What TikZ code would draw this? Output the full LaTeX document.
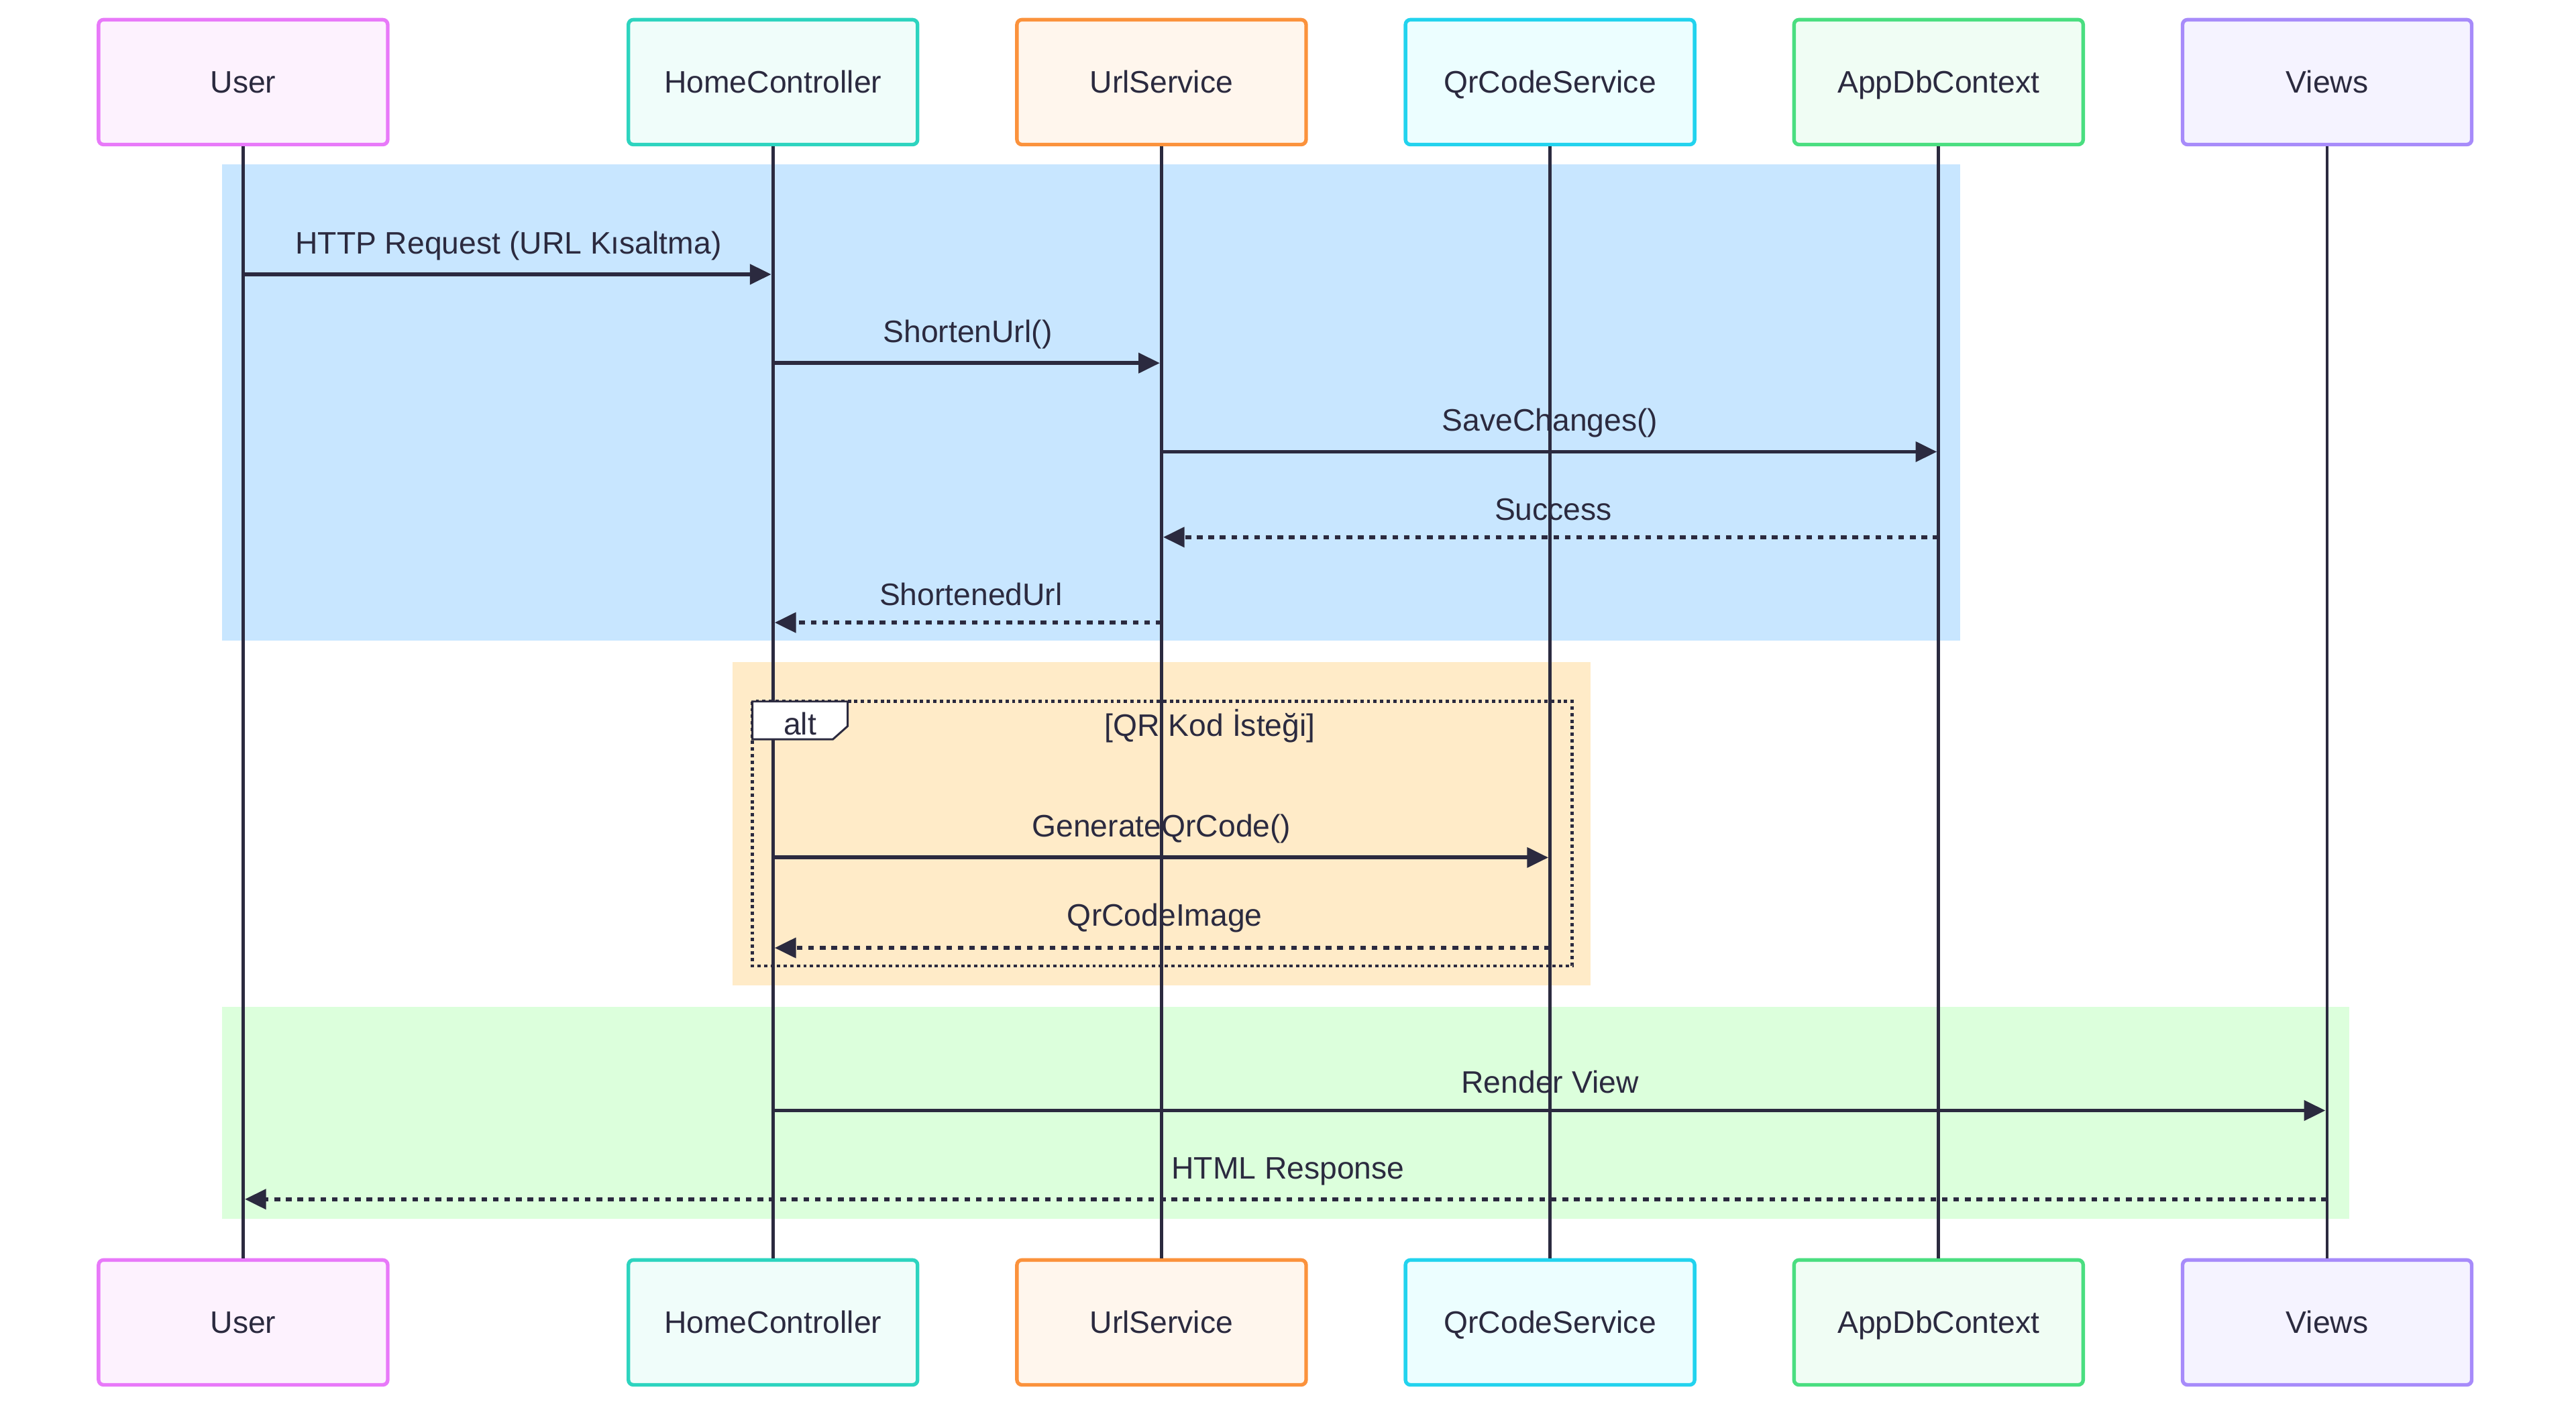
\documentclass[tikz,border=0pt]{standalone}
\usepackage{fontspec}
\setmainfont{Liberation Sans}
\usetikzlibrary{arrows.meta}
\definecolor{ink}{HTML}{2B2A3F}
\definecolor{uB}{HTML}{E879F9}\definecolor{uF}{HTML}{FDF2FE}
\definecolor{hB}{HTML}{2DD4BF}\definecolor{hF}{HTML}{F0FDFA}
\definecolor{sB}{HTML}{FB923C}\definecolor{sF}{HTML}{FFF6ED}
\definecolor{qB}{HTML}{22D3EE}\definecolor{qF}{HTML}{ECFEFF}
\definecolor{aB}{HTML}{4ADE80}\definecolor{aF}{HTML}{F0FDF4}
\definecolor{vB}{HTML}{A78BFA}\definecolor{vF}{HTML}{F5F3FF}
\definecolor{bgBlue}{RGB}{200,230,255}
\definecolor{bgOrange}{RGB}{255,235,200}
\definecolor{bgGreen}{RGB}{220,255,220}
\begin{document}
\begin{tikzpicture}[x=1pt,y=-1pt,
  font=\fontsize{18.9}{22}\selectfont,
  actor/.style={draw, rounded corners=3pt, line width=2.2pt, minimum width=176pt,
    minimum height=76pt, text=ink, inner sep=0pt, text height=13.5pt, text depth=0pt},
  life/.style={draw=ink, line width=2pt},
  msg/.style={draw=ink, line width=2.4pt, shorten >=1pt, -{Triangle[length=13pt,width=12pt]}},
  ret/.style={msg, dash pattern=on 3.5pt off 3.5pt},
  lbl/.style={text=ink, anchor=base, inner sep=0pt}]
\useasboundingbox (0,0) rectangle (1568,858.3);
% background groups
\fill[bgBlue] (135,100) rectangle (1193,390);
\fill[bgOrange] (446,403) rectangle (968,600);
\fill[bgGreen] (135,613) rectangle (1430,742);
% actors top
\node[actor, draw=uB, fill=uF] (uT) at (148,50) {User};
\node[actor, draw=hB, fill=hF] (hT) at (470.5,50) {HomeController};
\node[actor, draw=sB, fill=sF] (sT) at (707,50) {UrlService};
\node[actor, draw=qB, fill=qF] (qT) at (943.5,50) {QrCodeService};
\node[actor, draw=aB, fill=aF] (aT) at (1180,50) {AppDbContext};
\node[actor, draw=vB, fill=vF] (vT) at (1416.5,50) {Views};
% actors bottom
\node[actor, draw=uB, fill=uF] (uD) at (148,805) {User};
\node[actor, draw=hB, fill=hF] (hD) at (470.5,805) {HomeController};
\node[actor, draw=sB, fill=sF] (sD) at (707,805) {UrlService};
\node[actor, draw=qB, fill=qF] (qD) at (943.5,805) {QrCodeService};
\node[actor, draw=aB, fill=aF] (aD) at (1180,805) {AppDbContext};
\node[actor, draw=vB, fill=vF] (vD) at (1416.5,805) {Views};
% lifelines
\foreach \a/\b in {uT/uD,hT/hD,sT/sD,qT/qD,aT/aD,vT/vD}
  \draw[life] (\a.south) -- (\b.north);
% alt frame
\draw[ink, line width=2pt, dash pattern=on 2pt off 2pt] (458,427) rectangle (957,588);
\draw[ink, line width=1.2pt, fill=white] (458,427) -- (516,427) -- (516,442) -- (507,450) -- (458,450) -- cycle;
\node[lbl] (altl) at (487,447.5) {alt};
\node[lbl] (cond) at (736.5,448) {[QR Kod İsteği]};
% messages
\draw[msg] (uT.south |- 0,167) -- (hT.south |- 0,167);
\node[lbl] (l1) at (309.5,154.5) {HTTP Request (URL Kısaltma)};
\draw[msg] (hT.south |- 0,221) -- (sT.south |- 0,221);
\node[lbl] (l2) at (589,208.5) {ShortenUrl()};
\draw[msg] (sT.south |- 0,275) -- (aT.south |- 0,275);
\node[lbl] (l3) at (943.5,262.5) {SaveChanges()};
\draw[ret] (aT.south |- 0,327) -- (sT.south |- 0,327);
\node[lbl] (l4) at (945.5,316.5) {Success};
\draw[ret] (sT.south |- 0,379) -- (hT.south |- 0,379);
\node[lbl] (l5) at (591,368.5) {ShortenedUrl};
\draw[msg] (hT.south |- 0,522) -- (qT.south |- 0,522);
\node[lbl] (l6) at (707,509.5) {GenerateQrCode()};
\draw[ret] (qT.south |- 0,577) -- (hT.south |- 0,577);
\node[lbl] (l7) at (709,563.5) {QrCodeImage};
\draw[msg] (hT.south |- 0,676) -- (vT.south |- 0,676);
\node[lbl] (l8) at (943.5,665.5) {Render View};
\draw[ret] (vT.south |- 0,730) -- (uT.south |- 0,730);
\node[lbl] (l9) at (784,717.5) {HTML Response};
\end{tikzpicture}
\end{document}
